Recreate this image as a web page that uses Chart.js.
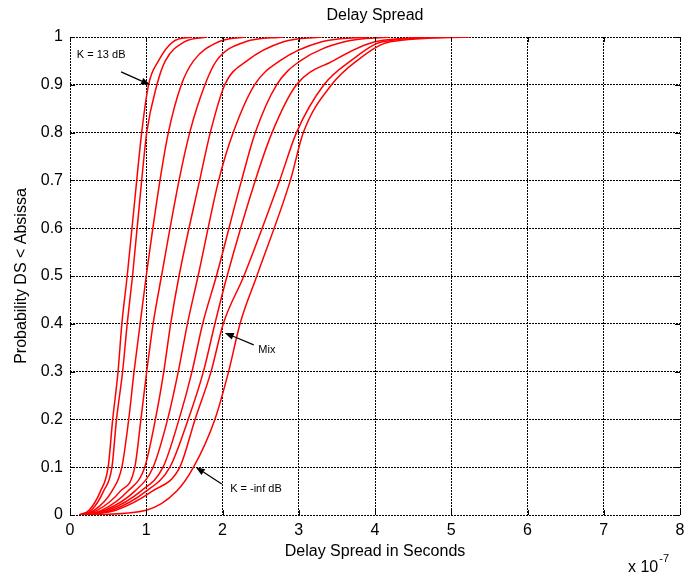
<!DOCTYPE html>
<html>
<head>
<meta charset="utf-8">
<title>Delay Spread</title>
<script src="https://cdn.jsdelivr.net/npm/chart.js@4.4.1/dist/chart.umd.min.js"></script>
<style>
  html, body { margin: 0; padding: 0; background: #fff; }
  #wrap { width: 692px; height: 577px; }
</style>
</head>
<body>
<div id="wrap"><canvas id="dsChart"></canvas></div>
<script>
// probability levels shared by every CDF curve
const probLevels = [0, 0.01, 0.05, 0.1, 0.2, 0.3, 0.4, 0.5, 0.7, 0.8, 0.9, 0.95, 0.99, 1];

// delay spread (x 1e-7 s) at each probability level, K = 13 dB first, K = -inf dB last
const ds1  = [0.12, 0.25, 0.40, 0.50, 0.56, 0.63, 0.68, 0.75, 0.875, 0.94, 1.03, 1.16, 1.35, 1.6];
const ds2  = [0.13, 0.28, 0.44, 0.55, 0.61, 0.69, 0.75, 0.82, 0.94, 1.006, 1.14, 1.25, 1.5, 1.8];
const ds3  = [0.14, 0.32, 0.55, 0.68, 0.77, 0.84, 0.92, 1.00, 1.18, 1.29, 1.46, 1.62, 1.95, 2.3];
const ds4  = [0.15, 0.36, 0.66, 0.85, 0.93, 1.006, 1.09, 1.20, 1.43, 1.57, 1.77, 1.92, 2.3, 2.8];
const ds5  = [0.16, 0.42, 0.76, 0.98, 1.12, 1.23, 1.32, 1.43, 1.70, 1.84, 2.03, 2.32, 2.8, 3.3];
const ds6  = [0.17, 0.46, 0.85, 1.09, 1.28, 1.42, 1.54, 1.68, 1.95, 2.14, 2.42, 2.75, 3.3, 3.9];
const ds7  = [0.18, 0.50, 0.93, 1.22, 1.43, 1.60, 1.74, 1.92, 2.25, 2.43, 2.71, 3.02, 3.6, 4.2];
const ds8  = [0.20, 0.55, 1.00, 1.31, 1.55, 1.75, 1.90, 2.06, 2.43, 2.65, 2.97, 3.45, 4.0, 4.8];
const ds9  = [0.22, 0.60, 1.08, 1.44, 1.64, 1.85, 2.01, 2.28, 2.75, 2.97, 3.33, 3.68, 4.1, 5.0];
const ds10 = [0.25, 1.00, 1.40, 1.62, 1.90, 2.08, 2.23, 2.45, 2.89, 3.06, 3.43, 3.76, 4.2, 5.25];
const curves = [ds1, ds2, ds3, ds4, ds5, ds6, ds7, ds8, ds9, ds10];

const xTicks = [0, 1, 2, 3, 4, 5, 6, 7, 8];

// text labels with arrows, in data units
const notes = [
    { text: 'K = 13 dB',   tx: 0.09, ty: 0.962, x0: 0.67, y0: 0.927, x1: 1.05, y1: 0.900 },
    { text: 'Mix',         tx: 2.47, ty: 0.345, x0: 2.41, y0: 0.356, x1: 2.03, y1: 0.381 },
    { text: 'K = -inf dB', tx: 2.10, ty: 0.054, x0: 1.99, y0: 0.065, x1: 1.65, y1: 0.100 }
];

const FONT = 'Liberation Sans, Arial, sans-serif';

const datasets = curves.map((xs, i) => ({
    label: 'curve ' + (i + 1),
    data: xs.map((x, j) => ({ x: x, y: probLevels[j] })),
    borderColor: '#ff0000',
    borderWidth: 1.5,
    pointRadius: 0,
    fill: false,
    cubicInterpolationMode: 'monotone'
}));

// small inward tick marks on all four sides
const innerTicks = {
    id: 'innerTicks',
    afterDraw(chart) {
        const { ctx, chartArea: a, scales: { x, y } } = chart;
        ctx.save();
        ctx.strokeStyle = '#000';
        ctx.lineWidth = 1;
        ctx.beginPath();
        x.ticks.forEach(t => {
            const px = Math.round(x.getPixelForValue(t.value)) + 0.5;
            ctx.moveTo(px, a.top); ctx.lineTo(px, a.top + 5);
            ctx.moveTo(px, a.bottom); ctx.lineTo(px, a.bottom - 5);
        });
        y.ticks.forEach(t => {
            const py = Math.round(y.getPixelForValue(t.value)) + 0.5;
            ctx.moveTo(a.left, py); ctx.lineTo(a.left + 5, py);
            ctx.moveTo(a.right, py); ctx.lineTo(a.right - 5, py);
        });
        ctx.stroke();
        ctx.restore();
    }
};

// arrows + labels, plus the x10^-7 exponent
const annotate = {
    id: 'annotate',
    afterDatasetsDraw(chart) {
        const { ctx, chartArea: a, scales: { x, y } } = chart;
        ctx.save();
        ctx.fillStyle = '#000';
        ctx.strokeStyle = '#000';
        ctx.lineWidth = 1.2;
        ctx.font = '11px ' + FONT;
        ctx.textBaseline = 'middle';
        ctx.textAlign = 'left';
        notes.forEach(n => {
            const sx = x.getPixelForValue(n.x0), sy = y.getPixelForValue(n.y0);
            const ex = x.getPixelForValue(n.x1), ey = y.getPixelForValue(n.y1);
            const ang = Math.atan2(ey - sy, ex - sx);
            const hl = 9, hw = 3.5;
            const bx = ex - hl * Math.cos(ang), by = ey - hl * Math.sin(ang);
            ctx.beginPath();
            ctx.moveTo(sx, sy); ctx.lineTo(bx, by);
            ctx.stroke();
            ctx.beginPath();
            ctx.moveTo(ex, ey);
            ctx.lineTo(bx + hw * Math.sin(ang), by - hw * Math.cos(ang));
            ctx.lineTo(bx - hw * Math.sin(ang), by + hw * Math.cos(ang));
            ctx.closePath();
            ctx.fill();
            ctx.fillText(n.text, x.getPixelForValue(n.tx), y.getPixelForValue(n.ty));
        });
        ctx.font = '16px ' + FONT;
        ctx.textBaseline = 'alphabetic';
        ctx.textAlign = 'left';
        const base = a.bottom + 57;
        const lx = a.right - 52;
        ctx.fillText('x 10', lx, base);
        const w = ctx.measureText('x 10').width;
        ctx.font = '11px ' + FONT;
        ctx.fillText('-7', lx + w + 1, base - 10);
        ctx.restore();
    }
};

const gridOpts = { color: '#000', lineWidth: 1, drawTicks: false };
const borderOpts = { display: false, dash: [2, 1] };

new Chart(document.getElementById('dsChart'), {
    type: 'line',
    data: { datasets },
    options: {
        responsive: true,
        maintainAspectRatio: false,
        animation: false,
        layout: { padding: { left: 0, right: 12, top: 0, bottom: 0 } },
        plugins: {
            legend: { display: false },
            tooltip: { enabled: false },
            title: {
                display: true,
                text: 'Delay Spread',
                fullSize: false,
                color: '#000',
                font: { family: FONT, size: 16, weight: 'normal' },
                padding: { top: 6, bottom: 11.8 }
            }
        },
        scales: {
            x: {
                type: 'linear',
                min: 0, max: 8,
                afterBuildTicks: s => { s.ticks = xTicks.map(v => ({ value: v })); },
                afterFit: s => { s.height = 62; },
                grid: gridOpts,
                border: borderOpts,
                ticks: { color: '#000', padding: 6, font: { family: FONT, size: 16 }, maxRotation: 0 },
                title: {
                    display: true,
                    text: 'Delay Spread in Seconds',
                    color: '#000',
                    font: { family: FONT, size: 16 },
                    padding: { top: 0, bottom: 16 }
                }
            },
            y: {
                type: 'linear',
                min: 0, max: 1,
                afterFit: s => { s.width = 70; },
                grid: gridOpts,
                border: borderOpts,
                ticks: {
                    stepSize: 0.1,
                    color: '#000',
                    padding: 7,
                    font: { family: FONT, size: 16 },
                    callback: v => String(Math.round(v * 10) / 10)
                },
                title: {
                    display: true,
                    text: 'Probability DS < Absissa',
                    color: '#000',
                    font: { family: FONT, size: 16 },
                    padding: { top: 12, bottom: 0 }
                }
            }
        }
    },
    plugins: [innerTicks, annotate]
});
</script>
</body>
</html>
